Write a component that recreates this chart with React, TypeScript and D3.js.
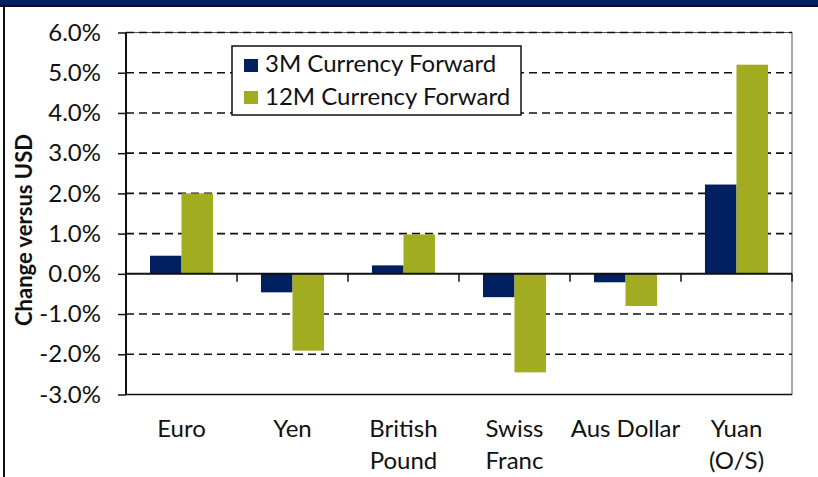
import { useEffect, useRef } from "react";
import * as d3 from "d3";

const categories = ["Euro", "Yen", "British\nPound", "Swiss\nFranc", "Aus Dollar", "Yuan\n(O/S)"];
const seriesNames = ["3M Currency Forward", "12M Currency Forward"];
const threeMonth = [0.45, -0.46, 0.21, -0.58, -0.21, 2.22];
const twelveMonth = [2.0, -1.91, 0.98, -2.45, -0.8, 5.2];
const yTicks = [-3, -2, -1, 0, 1, 2, 3, 4, 5, 6];
const colors = ["#00205f", "#a2ac20"];

const W = 818;
const H = 477;
const FONT = "Lato, 'Open Sans', sans-serif";

const App = () => {
  const ref = useRef<SVGSVGElement>(null);

  useEffect(() => {
    const svg = d3.select(ref.current);
    svg.selectAll("*").remove();

    const left = 126, right = 792, top = 32.5, bottom = 394.5;

    const y = d3.scaleLinear().domain([-3, 6]).range([bottom, top]);
    const x = d3.scaleBand<string>()
      .domain(categories)
      .range([left, right])
      .paddingInner(0.432)
      .paddingOuter(0.216);
    const x1 = d3.scaleBand<number>().domain([0, 1]).range([0, x.bandwidth()]);

    // frame
    svg.append("rect").attr("x", 0).attr("y", 0).attr("width", W).attr("height", 5).attr("fill", "#00205f");
    svg.append("rect").attr("x", 0).attr("y", 5).attr("width", W).attr("height", 2).attr("fill", "#111");
    svg.append("rect").attr("x", 3).attr("y", 7).attr("width", 2).attr("height", H).attr("fill", "#111");

    // plot border
    svg.append("rect")
      .attr("x", left).attr("y", top)
      .attr("width", right - left).attr("height", bottom - top)
      .attr("fill", "none").attr("stroke", "#555").attr("stroke-width", 1);

    // gridlines
    svg.append("g")
      .selectAll("line")
      .data(yTicks.filter((t) => t !== 0 && t !== -3))
      .join("line")
      .attr("x1", left).attr("x2", right)
      .attr("y1", (d) => y(d)).attr("y2", (d) => y(d))
      .attr("stroke", "#111").attr("stroke-width", 1.6)
      .attr("stroke-dasharray", "8,5");

    // bars
    const rows = categories.map((c, i) => ({ c, v: [threeMonth[i], twelveMonth[i]] }));
    const g = svg.append("g");
    rows.forEach((r) => {
      r.v.forEach((v, s) => {
        g.append("rect")
          .attr("x", (x(r.c) as number) + (x1(s) as number))
          .attr("y", y(Math.max(0, v)))
          .attr("width", x1.bandwidth())
          .attr("height", Math.abs(y(v) - y(0)))
          .attr("fill", colors[s]);
      });
    });

    // bottom border line
    svg.append("line").attr("x1", left).attr("x2", right).attr("y1", bottom).attr("y2", bottom)
      .attr("stroke", "#111").attr("stroke-width", 1.5);

    // y axis
    const ya = svg.append("g").attr("transform", `translate(${left},0)`)
      .call(d3.axisLeft(y).tickValues(yTicks).tickSize(8).tickPadding(17)
        .tickFormat((d) => `${(d as number).toFixed(1)}%`));
    ya.select(".domain").remove();
    ya.selectAll("line").attr("stroke", "#111").attr("stroke-width", 1.5);
    ya.selectAll("text").attr("font-family", FONT).attr("font-size", 24).attr("fill", "#111");
    svg.append("line").attr("x1", left).attr("x2", left).attr("y1", top).attr("y2", bottom)
      .attr("stroke", "#111").attr("stroke-width", 2);

    // x axis at zero
    const step = x.step();
    svg.append("g")
      .selectAll("line")
      .data(d3.range(1, categories.length + 1))
      .join("line")
      .attr("x1", (k) => left + k * step).attr("x2", (k) => left + k * step)
      .attr("y1", y(0)).attr("y2", y(0) + 8)
      .attr("stroke", "#111").attr("stroke-width", 1.5);
    svg.append("line").attr("x1", left).attr("x2", right).attr("y1", y(0)).attr("y2", y(0))
      .attr("stroke", "#111").attr("stroke-width", 2);

    // category labels
    const lbl = svg.append("g");
    categories.forEach((c) => {
      const cx = (x(c) as number) + x.bandwidth() / 2;
      const t = lbl.append("text")
        .attr("text-anchor", "middle")
        .attr("font-family", FONT).attr("font-size", 24).attr("fill", "#111");
      c.split("\n").forEach((line, i) => {
        t.append("tspan").attr("x", cx).attr("y", 437 + i * 32).text(line);
      });
    });

    // y title
    svg.append("text")
      .attr("transform", "translate(32,230) rotate(-90)")
      .attr("text-anchor", "middle")
      .attr("font-family", FONT).attr("font-size", 22).attr("font-weight", "bold").attr("fill", "#111")
      .text("Change versus USD");

    // legend
    const lg = svg.append("g");
    lg.append("rect").attr("x", 232).attr("y", 46).attr("width", 289).attr("height", 69)
      .attr("fill", "#fff").attr("stroke", "#111").attr("stroke-width", 1.5);
    seriesNames.forEach((n, i) => {
      lg.append("rect").attr("x", 244).attr("y", 59 + i * 32).attr("width", 14).attr("height", 13).attr("fill", colors[i]);
      lg.append("text").attr("x", 265).attr("y", 72 + i * 33)
        .attr("font-family", FONT).attr("font-size", 24).attr("fill", "#111").text(n);
    });
  }, []);

  return (
    <div style={{ position: "fixed", left: 0, top: 0, width: W, height: H, background: "#fff" }}>
      <svg ref={ref} width={W} height={H} style={{ display: "block" }} />
    </div>
  );
};

export default App;
